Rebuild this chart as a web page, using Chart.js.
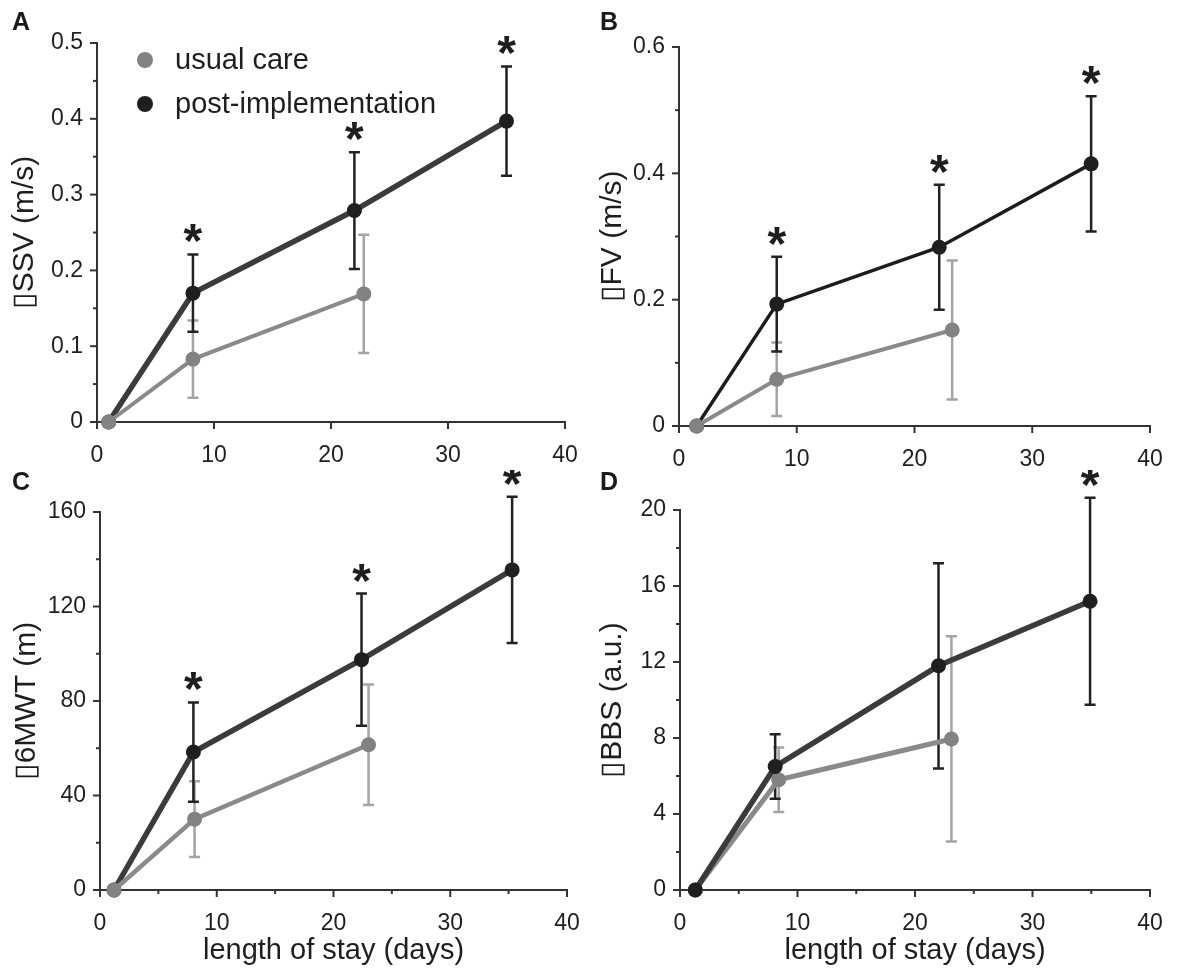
<!DOCTYPE html>
<html>
<head>
<meta charset="utf-8">
<script src="https://cdn.jsdelivr.net/npm/chart.js@4.4.1/dist/chart.umd.min.js"></script>
<style>
  body { margin: 0; background: #fff; width: 1181px; height: 979px; position: relative; overflow: hidden;
         font-family: "Liberation Sans", Arial, sans-serif; }
  .panel { position: absolute; }
  .letter { position: absolute; font-weight: bold; font-size: 25px; line-height: 25px; color: #1a1a1a; }
</style>
</head>
<body>
<div class="panel" style="left:0;top:0"><canvas id="cA" width="590" height="470"></canvas></div>
<div class="panel" style="left:590px;top:0"><canvas id="cB" width="591" height="470"></canvas></div>
<div class="panel" style="left:0;top:470px"><canvas id="cC" width="590" height="509"></canvas></div>
<div class="panel" style="left:590px;top:470px"><canvas id="cD" width="591" height="509"></canvas></div>
<div class="letter" style="left:12px;top:9px">A</div>
<div class="letter" style="left:600px;top:9px">B</div>
<div class="letter" style="left:12px;top:469px">C</div>
<div class="letter" style="left:600px;top:469px">D</div>
<script>
// series names
const seriesNames = ['usual care', 'post-implementation'];
const xTitle = 'length of stay (days)';

// A: self-selected speed
const daysUsualA = [1.0, 8.2, 22.8];
const daysPostA = [1.0, 8.2, 22.0, 35.0];
const ssvUsual = [0, 0.083, 0.169];
const ssvUsualSd = [0, 0.051, 0.078];
const ssvPost = [0, 0.170, 0.279, 0.397];
const ssvPostSd = [0, 0.051, 0.077, 0.072];
const ssvStars = [false, true, true, true];

// B: fast speed
const daysUsualB = [1.5, 8.3, 23.2];
const daysPostB = [1.5, 8.3, 22.1, 35.0];
const fvUsual = [0, 0.074, 0.152];
const fvUsualSd = [0, 0.058, 0.110];
const fvPost = [0, 0.193, 0.283, 0.415];
const fvPostSd = [0, 0.075, 0.099, 0.107];
const fvStars = [false, true, true, true];

// C: 6 minute walk
const daysUsualC = [1.2, 8.1, 23.0];
const daysPostC = [1.2, 8.0, 22.4, 35.3];
const mwtUsual = [0, 30, 61.5];
const mwtUsualSd = [0, 16, 25.5];
const mwtPost = [0, 58.4, 97.5, 135.5];
const mwtPostSd = [0, 21, 28, 31];
const mwtStars = [false, true, true, true];

// D: Berg balance
const daysUsualD = [1.3, 8.4, 23.1];
const daysPostD = [1.3, 8.1, 22.0, 34.9];
const bbsUsual = [0, 5.8, 7.95];
const bbsUsualSd = [0, 1.7, 5.4];
const bbsPost = [0, 6.5, 11.8, 15.2];
const bbsPostSd = [0, 1.7, 5.4, 5.45];
const bbsStars = [false, false, false, true];

// y axis ranges / ticks: [max, minor step, labelled step]
const yTicksA = [0.5, 0.05, 0.1];
const yTicksB = [0.6, 0.1, 0.2];
const yTicksC = [160, 20, 40];
const yTicksD = [20, 2, 4];

const FONT = '"Liberation Sans", Arial, sans-serif';
const TXT = '#1e1e1e';
const AXIS = '#333';
const GREY_PT = '#828282', GREY_LINE = '#8a8a8a', GREY_ERR = '#a4a4a4';
const BLACK_PT = '#1f1f1f', BLACK_LINE = '#3b3b3b', BLACK_ERR = '#222';

function pts(xs, ys) { return xs.map((x, i) => ({ x: x, y: ys[i] })); }

// error bars under the lines, stars on top
const errorBars = {
  id: 'errorBars',
  beforeDatasetsDraw(chart) {
    const ctx = chart.ctx, sx = chart.scales.x, sy = chart.scales.y;
    const sets = chart.data.datasets.slice().sort((a, b) => a.barLayer - b.barLayer);
    ctx.save();
    sets.forEach(ds => {
      ctx.strokeStyle = ds.errColor;
      ctx.lineWidth = ds.errWidth;
      ds.data.forEach((p, j) => {
        const e = ds.sd[j];
        if (!e) return;
        const x = sx.getPixelForValue(p.x);
        const t = sy.getPixelForValue(p.y + e), b = sy.getPixelForValue(p.y - e);
        ctx.beginPath();
        ctx.moveTo(x, t); ctx.lineTo(x, b);
        ctx.moveTo(x - 5.5, t); ctx.lineTo(x + 5.5, t);
        ctx.moveTo(x - 5.5, b); ctx.lineTo(x + 5.5, b);
        ctx.stroke();
      });
    });
    ctx.restore();
  },
  afterDatasetsDraw(chart) {
    const ctx = chart.ctx, sx = chart.scales.x, sy = chart.scales.y;
    ctx.save();
    ctx.fillStyle = TXT;
    ctx.font = 'bold 48px ' + FONT;
    ctx.textAlign = 'center';
    ctx.textBaseline = 'alphabetic';
    chart.data.datasets.forEach(ds => {
      if (!ds.stars) return;
      ds.data.forEach((p, j) => {
        if (!ds.stars[j]) return;
        ctx.fillText('*', sx.getPixelForValue(p.x), sy.getPixelForValue(p.y + ds.sd[j]) + 3);
      });
    });
    ctx.restore();
  }
};

// tick marks outside the axes, shorter for unlabelled ones
const axisTicks = {
  id: 'axisTicks',
  afterDraw(chart) {
    const ctx = chart.ctx, a = chart.chartArea;
    ctx.save();
    ctx.strokeStyle = AXIS;
    ctx.lineWidth = 2;
    ['x', 'y'].forEach(id => {
      const s = chart.scales[id];
      s.ticks.forEach((t, i) => {
        const len = t.label === '' ? 4 : 7;
        const p = s.getPixelForTick(i);
        ctx.beginPath();
        if (id === 'x') { ctx.moveTo(p, a.bottom); ctx.lineTo(p, a.bottom + len); }
        else { ctx.moveTo(a.left, p); ctx.lineTo(a.left - len, p); }
        ctx.stroke();
      });
    });
    ctx.restore();
  }
};

// legend inside panel A
const cornerLegend = {
  id: 'cornerLegend',
  afterDraw(chart, args, o) {
    if (!o || !o.show) return;
    const ctx = chart.ctx, a = chart.chartArea;
    const cols = [GREY_PT, BLACK_PT];
    ctx.save();
    ctx.font = '29px ' + FONT;
    ctx.textBaseline = 'middle';
    seriesNames.forEach((name, k) => {
      const y = a.top + 17 + k * 44;
      ctx.fillStyle = cols[k];
      ctx.beginPath();
      ctx.arc(a.left + 48, y, 8, 0, Math.PI * 2);
      ctx.fill();
      ctx.fillStyle = TXT;
      ctx.fillText(name, a.left + 78, y + 1);
    });
    ctx.restore();
  }
};

Chart.register(errorBars, axisTicks, cornerLegend);

function usualSet(xs, ys, sd, w) {
  return {
    label: seriesNames[0], data: pts(xs, ys), sd: sd,
    borderColor: GREY_LINE, borderWidth: w, pointRadius: 7.5, pointHoverRadius: 7.5,
    pointBackgroundColor: GREY_PT, pointBorderWidth: 0, pointBorderColor: GREY_PT,
    errColor: GREY_ERR, errWidth: 2.5, barLayer: 0, clip: false, tension: 0
  };
}
function postSet(xs, ys, sd, stars, w, col) {
  return {
    label: seriesNames[1], data: pts(xs, ys), sd: sd, stars: stars,
    borderColor: col, borderWidth: w, pointRadius: 7.5, pointHoverRadius: 7.5,
    pointBackgroundColor: BLACK_PT, pointBorderWidth: 0, pointBorderColor: BLACK_PT,
    errColor: BLACK_ERR, errWidth: 2.5, barLayer: 1, clip: false, tension: 0
  };
}

function makePanel(id, p) {
  const yt = p.yTicks;
  return new Chart(document.getElementById(id), {
    type: 'line',
    data: { datasets: p.datasets },
    options: {
      responsive: false, animation: false, devicePixelRatio: 1,
      layout: { padding: { left: 0, top: p.top, right: p.right, bottom: 0 } },
      plugins: { legend: { display: false }, tooltip: { enabled: false }, cornerLegend: { show: !!p.legend } },
      scales: {
        x: {
          type: 'linear', min: 0, max: 40,
          // fixed axis box, no extra room for overhanging labels
          afterFit: s => { s.height = p.xh; s.paddingLeft = 0; s.paddingRight = 0; },
          border: { color: AXIS, width: 2 },
          grid: { drawOnChartArea: false, drawTicks: false },
          ticks: {
            stepSize: p.xStep, autoSkip: false, maxRotation: 0, padding: 20, color: TXT,
            font: { family: FONT, size: 23 },
            callback: v => (v % 10 === 0 ? String(v) : '')
          },
          title: {
            display: !!p.xTitle, text: p.xTitle || '', color: TXT,
            font: { family: FONT, size: 29 }, padding: { top: 0, bottom: 11 }
          }
        },
        y: {
          type: 'linear', min: 0, max: yt[0],
          afterFit: s => { s.width = p.yw; s.paddingTop = 0; s.paddingBottom = 0; },
          border: { color: AXIS, width: 2 },
          grid: { drawOnChartArea: false, drawTicks: false },
          ticks: {
            stepSize: yt[1], autoSkip: false, padding: 14, color: TXT,
            font: { family: FONT, size: 23 },
            callback: v => {
              const r = v / yt[2];
              return Math.abs(r - Math.round(r)) < 1e-6 ? String(+v.toFixed(2)) : '';
            }
          },
          title: {
            display: true, text: p.yTitle, color: TXT,
            font: { family: FONT, size: 30 }, padding: { top: p.yTitlePad, bottom: 0 }
          }
        }
      }
    }
  });
}

makePanel('cA', {
  datasets: [usualSet(daysUsualA, ssvUsual, ssvUsualSd, 4), postSet(daysPostA, ssvPost, ssvPostSd, ssvStars, 5.5, BLACK_LINE)],
  yTicks: yTicksA, yTitle: '\u25AFSSV (m/s)', top: 43, right: 25, yw: 97, xh: 48, xStep: 10, yTitlePad: 7, legend: true
});
makePanel('cB', {
  datasets: [usualSet(daysUsualB, fvUsual, fvUsualSd, 4), postSet(daysPostB, fvPost, fvPostSd, fvStars, 3.5, '#1c1c1c')],
  yTicks: yTicksB, yTitle: '\u25AFFV (m/s)', top: 47, right: 31, yw: 89, xh: 44, xStep: 10, yTitlePad: 5
});
makePanel('cC', {
  datasets: [usualSet(daysUsualC, mwtUsual, mwtUsualSd, 4.5), postSet(daysPostC, mwtPost, mwtPostSd, mwtStars, 5.5, BLACK_LINE)],
  yTicks: yTicksC, yTitle: '\u25AF6MWT (m)', top: 42, right: 23, yw: 100, xh: 89, xStep: 5, yTitlePad: 9, xTitle: xTitle
});
makePanel('cD', {
  datasets: [postSet(daysPostD, bbsPost, bbsPostSd, bbsStars, 5.5, BLACK_LINE), usualSet(daysUsualD, bbsUsual, bbsUsualSd, 5)],
  yTicks: yTicksD, yTitle: '\u25AFBBS (a.u.)', top: 40, right: 31, yw: 90, xh: 89, xStep: 5, yTitlePad: 5, xTitle: xTitle
});
</script>
</body>
</html>
